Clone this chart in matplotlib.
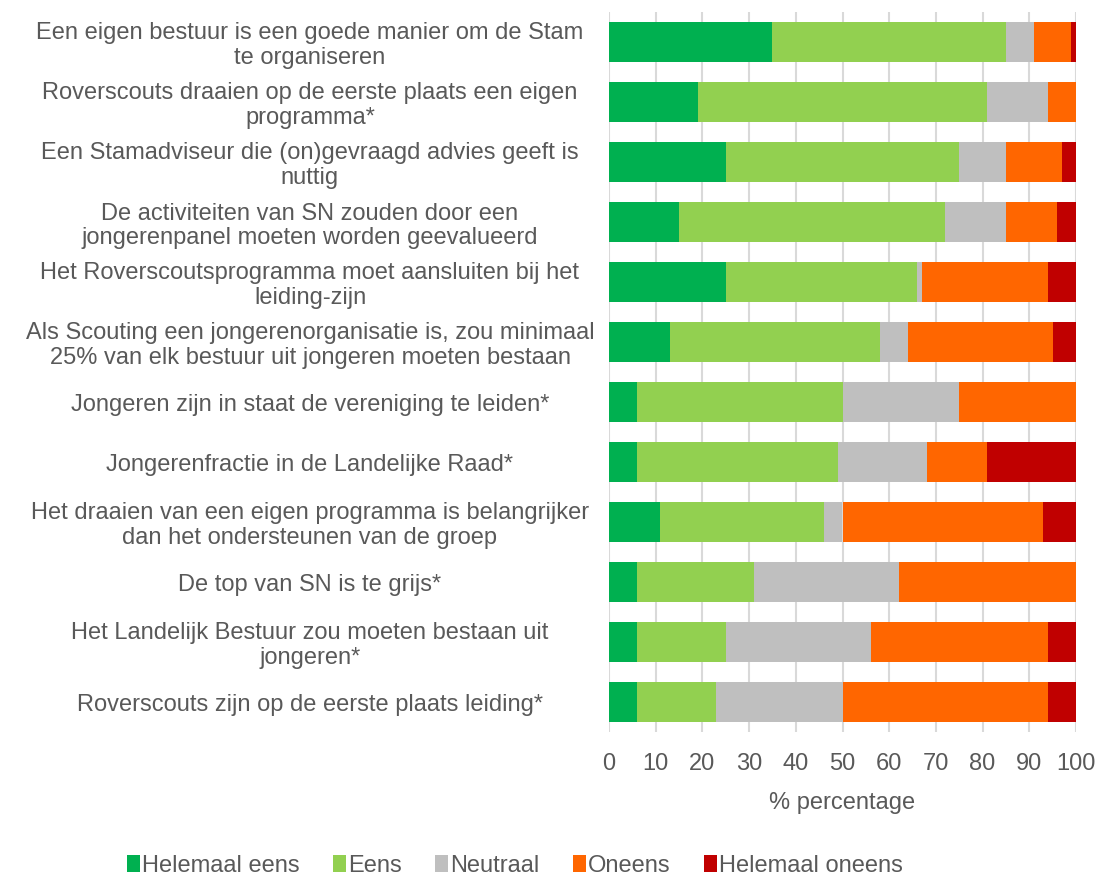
import matplotlib
matplotlib.use("Agg")
import matplotlib.pyplot as plt
import numpy as np

categories = [
    "Een eigen bestuur is een goede manier om de Stam\nte organiseren",
    "Roverscouts draaien op de eerste plaats een eigen\nprogramma*",
    "Een Stamadviseur die (on)gevraagd advies geeft is\nnuttig",
    "De activiteiten van SN zouden door een\njongerenpanel moeten worden geevalueerd",
    "Het Roverscoutsprogramma moet aansluiten bij het\nleiding-zijn",
    "Als Scouting een jongerenorganisatie is, zou minimaal\n25% van elk bestuur uit jongeren moeten bestaan",
    "Jongeren zijn in staat de vereniging te leiden*",
    "Jongerenfractie in de Landelijke Raad*",
    "Het draaien van een eigen programma is belangrijker\ndan het ondersteunen van de groep",
    "De top van SN is te grijs*",
    "Het Landelijk Bestuur zou moeten bestaan uit\njongeren*",
    "Roverscouts zijn op de eerste plaats leiding*",
]
helemaal_eens = [35, 19, 25, 15, 25, 13, 6, 6, 11, 6, 6, 6]
eens = [50, 62, 50, 57, 41, 45, 44, 43, 35, 25, 19, 17]
neutraal = [6, 13, 10, 13, 1, 6, 25, 19, 4, 31, 31, 27]
oneens = [8, 6, 12, 11, 27, 31, 25, 13, 43, 38, 38, 44]
helemaal_oneens = [1, 0, 3, 4, 6, 5, 0, 19, 7, 0, 6, 6]

series_names = ["Helemaal eens", "Eens", "Neutraal", "Oneens", "Helemaal oneens"]
colors = ["#00B050", "#92D050", "#BFBFBF", "#FF6600", "#C00000"]
xticks = [0, 10, 20, 30, 40, 50, 60, 70, 80, 90, 100]

plt.rcParams['font.family'] = ['Liberation Sans', 'DejaVu Sans']
text_color = "#595959"
fs = 17

fig = plt.figure(figsize=(10.99, 8.77), dpi=100)
ax = fig.add_axes([609/1099, 1 - 732/877, (1076-609)/1099, (732-12)/877])

y = np.arange(len(categories))
left = np.zeros(len(categories))
for name, vals, c in zip(series_names, [helemaal_eens, eens, neutraal, oneens, helemaal_oneens], colors):
    vals = np.array(vals, dtype=float)
    ax.barh(y, vals, left=left, height=0.667, color=c, label=name, zorder=3)
    left += vals

ax.set_ylim(len(categories) - 0.5, -0.5)
ax.set_xlim(0, 100)
ax.set_xticks(xticks)
ax.set_xticklabels([str(t) for t in xticks], fontsize=fs, color=text_color)
ax.set_yticks(y)
ax.set_yticklabels(categories, fontsize=fs, color=text_color, ha='center', linespacing=1.15)
ax.tick_params(axis='y', length=0, pad=(609 - 310) * 0.72)
ax.tick_params(axis='x', length=0, pad=15)
ax.grid(axis='x', color="#D9D9D9", linewidth=1.5, zorder=0)
for s in ax.spines.values():
    s.set_visible(False)
ax.set_xlabel("% percentage", fontsize=fs, color=text_color, labelpad=12)

handles, labels = ax.get_legend_handles_labels()
leg = fig.legend(handles, labels, loc='center', bbox_to_anchor=(515/1099, 1 - 866/877), ncol=5,
                 frameon=False, fontsize=fs, handlelength=0.55, handleheight=0.7,
                 handletextpad=0.1, columnspacing=1.4, labelcolor=text_color)

fig.savefig("out.png", dpi=100)
